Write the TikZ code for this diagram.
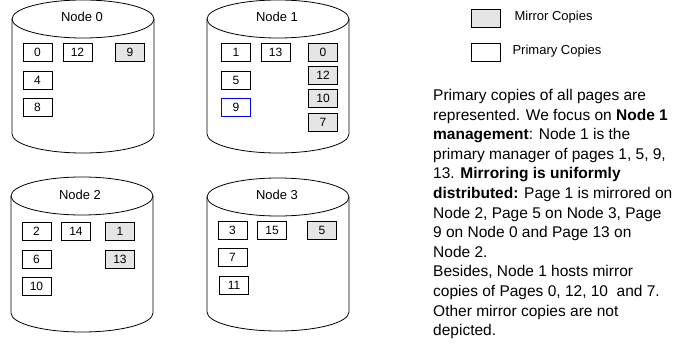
\documentclass[tikz,border=0pt]{standalone}
\usepackage{fontspec}
\setmainfont{Liberation Sans}
\usepackage{tikz}
\usetikzlibrary{positioning}
\tikzstyle{page}=[draw, fill=white, line width=0.7pt, minimum height = 18pt, minimum width=29pt, inner sep=0pt, font=\fontsize{12}{14}\selectfont]
\tikzstyle{mirror}=[page, fill=black!10]
\tikzstyle{disk}=[draw, line width=0.8pt]
\tikzstyle{title}=[font=\fontsize{13}{15}\selectfont]
\tikzstyle{legend}=[font=\fontsize{13}{15}\selectfont, inner sep=0pt]
% draws one disk: #1 centre x, #2 top y, #3 bottom y
\newcommand{\diskdraw}[3]{%
  \draw[disk] (#1,#2) ellipse [x radius=71, y radius=19];
  \draw[disk] (#1-71,#2) -- (#1-71,#3) arc[start angle=180, end angle=0, x radius=71, y radius=19] -- (#1+71,#2);
}

\begin{document}
\begin{tikzpicture}[x=1pt,y=-1pt,node distance=40pt,auto]
\useasboundingbox (0,0) rectangle (690,345);

%% Node 0
\diskdraw{83}{19}{134}
\node[title] at (82,17) (t0) {Node 0};
\node[page] at (37.5,52) (a0) {0};
\node[page, right of = a0] (a12) {12};
\node[mirror, right of = a12, node distance = 52.5pt] (a9) {9};
\node[page, below of = a0, node distance = 28.5pt] (a4) {4};
\node[page, below of = a4, node distance = 26.5pt] (a8) {8};

%% Node 1
\diskdraw{278}{19}{134}
\node[title] at (277,17) (t1) {Node 1};
\node[page] at (236,52) (b1) {1};
\node[page, right of = b1, node distance = 39.5pt] (b13) {13};
\node[page, below of = b1, node distance = 28.5pt] (b5) {5};
\node[page, draw=blue, below of = b5, node distance = 27pt] (b9) {9};
\node[mirror, right of = b13, node distance = 47.5pt] (b0) {0};
\node[mirror, below of = b0, node distance = 23.5pt] (b12) {12};
\node[mirror, below of = b12, node distance = 23pt] (b10) {10};
\node[mirror, below of = b10, node distance = 24pt] (b7) {7};

%% Node 2
\diskdraw{82}{196}{313}
\node[title] at (80,195) (t2) {Node 2};
\node[page] at (36.5,231.5) (c2) {2};
\node[page, right of = c2, node distance = 39.5pt] (c14) {14};
\node[mirror, right of = c14, node distance = 44pt] (c1) {1};
\node[page, below of = c2, node distance = 28pt] (c6) {6};
\node[page, below of = c6, node distance = 27pt] (c10) {10};
\node[mirror, below of = c1, node distance = 28pt] (c13) {13};

%% Node 3
\diskdraw{278}{197}{312}
\node[title] at (277,195) (t3) {Node 3};
\node[page] at (232.5,230) (d3) {3};
\node[page, right of = d3, node distance = 39.5pt] (d15) {15};
\node[mirror, right of = d15, node distance = 50pt] (d5) {5};
\node[page, below of = d3, node distance = 27.5pt] (d7) {7};
\node[page, below of = d7, node distance = 28pt, xshift=1.5pt] (d11) {11};

%% legend
\node[mirror] at (485.5,18.5) (lm) {};
\node[page, below of = lm, node distance = 34pt] (lp) {};
\node[legend, right = 14pt of lm, yshift=1pt] (lmt) {Mirror Copies};
\node[legend, right = 12pt of lp, yshift=1.5pt] (lpt) {Primary Copies};

%% explanation
\node[anchor=north west, inner sep=0pt, align=left, font=\fontsize{15.5}{19.6}\selectfont] at (433,89) (txt) {%
Primary copies of all pages are\\
represented. We focus on \textbf{Node 1}\\
\textbf{management}: Node 1 is the\\
primary manager of pages 1, 5, 9,\\
13. \textbf{Mirroring is uniformly}\\
\textbf{distributed:} Page 1 is mirrored on\\
Node 2, Page 5 on Node 3, Page\\
9 on Node 0 and Page 13 on\\
Node 2.\\
Besides, Node 1 hosts mirror\\
copies of Pages 0, 12, 10 \ and 7.\\
Other mirror copies are not\\
depicted.};
\end{tikzpicture}
\end{document}
